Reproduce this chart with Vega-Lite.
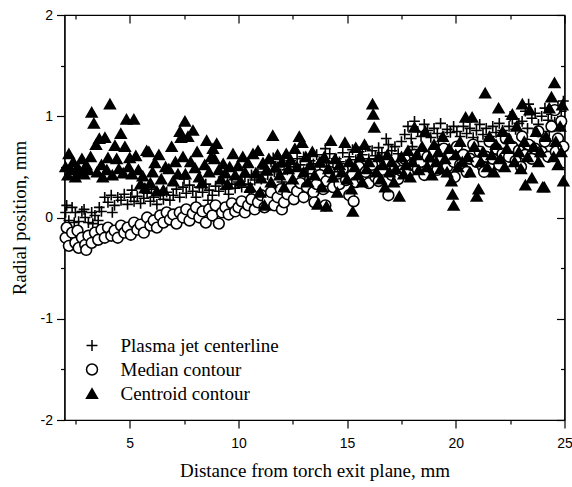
{
"$schema":"https://vega.github.io/schema/vega-lite/v6.json",
"width":500,"height":405,
"autosize":{"type":"none"},
"padding":{"left":64.5,"top":15,"right":7.5,"bottom":67},
"background":"white",
"config":{"view":{"stroke":"black","strokeWidth":1.2},
 "legend":{"orient":"none","legendX":18,"legendY":321,"title":null,"padding":0,"labelFont":"Liberation Serif","labelFontSize":19,"labelColor":"black","labelOffset":19,"symbolSize":120,"symbolStrokeWidth":1.5,"symbolOpacity":1,"rowPadding":4},
 "axis":{"grid":false,"domainColor":"black","domainWidth":1.2,"tickColor":"black","tickWidth":1.2,"labelColor":"black","labelFont":"Liberation Sans","labelFontSize":14,"titleColor":"#000000","titleFont":"Liberation Serif","titleFontSize":19,"titleFontWeight":"normal"}},
"data":{"values":[
{"series":"Plasma jet centerline","x":2.05,"y":0.05},{"series":"Plasma jet centerline","x":2.1,"y":0.12},{"series":"Plasma jet centerline","x":2.2,"y":-0.03},{"series":"Plasma jet centerline","x":2.35,"y":0.1},{"series":"Plasma jet centerline","x":2.45,"y":-0.05},{"series":"Plasma jet centerline","x":2.5,"y":0.05},{"series":"Plasma jet centerline","x":2.65,"y":-0.04},{"series":"Plasma jet centerline","x":2.8,"y":0.06},{"series":"Plasma jet centerline","x":2.9,"y":0.08},{"series":"Plasma jet centerline","x":2.95,"y":0.0},{"series":"Plasma jet centerline","x":3.1,"y":-0.05},{"series":"Plasma jet centerline","x":3.25,"y":0.05},{"series":"Plasma jet centerline","x":3.3,"y":-0.06},{"series":"Plasma jet centerline","x":3.4,"y":0.02},{"series":"Plasma jet centerline","x":3.55,"y":-0.03},{"series":"Plasma jet centerline","x":3.6,"y":0.1},{"series":"Plasma jet centerline","x":3.7,"y":0.06},
{"series":"Plasma jet centerline","x":3.85,"y":0.2},{"series":"Plasma jet centerline","x":4.0,"y":0.15},{"series":"Plasma jet centerline","x":4.15,"y":0.22},{"series":"Plasma jet centerline","x":4.2,"y":0.05},{"series":"Plasma jet centerline","x":4.3,"y":0.12},{"series":"Plasma jet centerline","x":4.45,"y":0.2},{"series":"Plasma jet centerline","x":4.6,"y":0.17},{"series":"Plasma jet centerline","x":4.75,"y":0.23},{"series":"Plasma jet centerline","x":4.9,"y":0.13},{"series":"Plasma jet centerline","x":5.05,"y":0.2},{"series":"Plasma jet centerline","x":5.1,"y":0.27},{"series":"Plasma jet centerline","x":5.2,"y":0.16},{"series":"Plasma jet centerline","x":5.35,"y":0.21},{"series":"Plasma jet centerline","x":5.5,"y":0.14},{"series":"Plasma jet centerline","x":5.65,"y":0.19},{"series":"Plasma jet centerline","x":5.8,"y":0.24},{"series":"Plasma jet centerline","x":5.95,"y":0.16},{"series":"Plasma jet centerline","x":6.0,"y":0.28},{"series":"Plasma jet centerline","x":6.1,"y":0.2},{"series":"Plasma jet centerline","x":6.25,"y":0.13},{"series":"Plasma jet centerline","x":6.4,"y":0.22},{"series":"Plasma jet centerline","x":6.55,"y":0.18},{"series":"Plasma jet centerline","x":6.7,"y":0.25},{"series":"Plasma jet centerline","x":6.85,"y":0.17},
{"series":"Plasma jet centerline","x":7.0,"y":0.22},{"series":"Plasma jet centerline","x":7.15,"y":0.28},{"series":"Plasma jet centerline","x":7.3,"y":0.2},{"series":"Plasma jet centerline","x":7.45,"y":0.3},{"series":"Plasma jet centerline","x":7.5,"y":0.38},{"series":"Plasma jet centerline","x":7.6,"y":0.24},{"series":"Plasma jet centerline","x":7.75,"y":0.32},{"series":"Plasma jet centerline","x":7.9,"y":0.26},{"series":"Plasma jet centerline","x":8.05,"y":0.2},{"series":"Plasma jet centerline","x":8.2,"y":0.3},{"series":"Plasma jet centerline","x":8.35,"y":0.25},{"series":"Plasma jet centerline","x":8.5,"y":0.33},{"series":"Plasma jet centerline","x":8.6,"y":0.17},{"series":"Plasma jet centerline","x":8.65,"y":0.27},{"series":"Plasma jet centerline","x":8.8,"y":0.22},{"series":"Plasma jet centerline","x":8.95,"y":0.31},{"series":"Plasma jet centerline","x":9.1,"y":0.26},{"series":"Plasma jet centerline","x":9.25,"y":0.34},{"series":"Plasma jet centerline","x":9.3,"y":0.4},{"series":"Plasma jet centerline","x":9.4,"y":0.28},{"series":"Plasma jet centerline","x":9.55,"y":0.23},{"series":"Plasma jet centerline","x":9.7,"y":0.33},{"series":"Plasma jet centerline","x":9.85,"y":0.29},
{"series":"Plasma jet centerline","x":10.0,"y":0.35},{"series":"Plasma jet centerline","x":10.15,"y":0.3},{"series":"Plasma jet centerline","x":10.3,"y":0.4},{"series":"Plasma jet centerline","x":10.45,"y":0.33},{"series":"Plasma jet centerline","x":10.5,"y":0.25},{"series":"Plasma jet centerline","x":10.6,"y":0.42},{"series":"Plasma jet centerline","x":10.75,"y":0.37},{"series":"Plasma jet centerline","x":10.9,"y":0.45},{"series":"Plasma jet centerline","x":11.05,"y":0.38},{"series":"Plasma jet centerline","x":11.2,"y":0.48},{"series":"Plasma jet centerline","x":11.35,"y":0.42},{"series":"Plasma jet centerline","x":11.5,"y":0.55},{"series":"Plasma jet centerline","x":11.6,"y":0.59},{"series":"Plasma jet centerline","x":11.65,"y":0.45},{"series":"Plasma jet centerline","x":11.8,"y":0.5},{"series":"Plasma jet centerline","x":11.95,"y":0.43},{"series":"Plasma jet centerline","x":12.0,"y":0.35},{"series":"Plasma jet centerline","x":12.1,"y":0.53},{"series":"Plasma jet centerline","x":12.25,"y":0.47},{"series":"Plasma jet centerline","x":12.4,"y":0.56},
{"series":"Plasma jet centerline","x":12.55,"y":0.5},{"series":"Plasma jet centerline","x":12.7,"y":0.58},{"series":"Plasma jet centerline","x":12.85,"y":0.52},{"series":"Plasma jet centerline","x":13.0,"y":0.6},{"series":"Plasma jet centerline","x":13.15,"y":0.48},{"series":"Plasma jet centerline","x":13.2,"y":0.42},{"series":"Plasma jet centerline","x":13.3,"y":0.56},{"series":"Plasma jet centerline","x":13.45,"y":0.53},{"series":"Plasma jet centerline","x":13.6,"y":0.62},{"series":"Plasma jet centerline","x":13.75,"y":0.5},{"series":"Plasma jet centerline","x":13.9,"y":0.57},{"series":"Plasma jet centerline","x":14.0,"y":0.68},{"series":"Plasma jet centerline","x":14.05,"y":0.54},{"series":"Plasma jet centerline","x":14.2,"y":0.63},{"series":"Plasma jet centerline","x":14.35,"y":0.49},{"series":"Plasma jet centerline","x":14.5,"y":0.58},{"series":"Plasma jet centerline","x":14.65,"y":0.55},{"series":"Plasma jet centerline","x":14.8,"y":0.64},{"series":"Plasma jet centerline","x":14.95,"y":0.52},
{"series":"Plasma jet centerline","x":15.1,"y":0.6},{"series":"Plasma jet centerline","x":15.25,"y":0.67},{"series":"Plasma jet centerline","x":15.4,"y":0.57},{"series":"Plasma jet centerline","x":15.5,"y":0.52},{"series":"Plasma jet centerline","x":15.55,"y":0.65},{"series":"Plasma jet centerline","x":15.7,"y":0.62},{"series":"Plasma jet centerline","x":15.85,"y":0.7},{"series":"Plasma jet centerline","x":16.0,"y":0.58},{"series":"Plasma jet centerline","x":16.15,"y":0.66},{"series":"Plasma jet centerline","x":16.3,"y":0.61},{"series":"Plasma jet centerline","x":16.45,"y":0.69},{"series":"Plasma jet centerline","x":16.6,"y":0.64},{"series":"Plasma jet centerline","x":16.75,"y":0.6},{"series":"Plasma jet centerline","x":16.8,"y":0.78},{"series":"Plasma jet centerline","x":16.9,"y":0.72},{"series":"Plasma jet centerline","x":17.05,"y":0.66},{"series":"Plasma jet centerline","x":17.2,"y":0.7},{"series":"Plasma jet centerline","x":17.35,"y":0.63},
{"series":"Plasma jet centerline","x":17.5,"y":0.75},{"series":"Plasma jet centerline","x":17.65,"y":0.82},{"series":"Plasma jet centerline","x":17.8,"y":0.9},{"series":"Plasma jet centerline","x":17.95,"y":0.78},{"series":"Plasma jet centerline","x":18.0,"y":0.7},{"series":"Plasma jet centerline","x":18.1,"y":0.95},{"series":"Plasma jet centerline","x":18.25,"y":0.85},{"series":"Plasma jet centerline","x":18.4,"y":0.8},{"series":"Plasma jet centerline","x":18.55,"y":0.92},{"series":"Plasma jet centerline","x":18.7,"y":0.86},{"series":"Plasma jet centerline","x":18.85,"y":0.79},{"series":"Plasma jet centerline","x":19.0,"y":0.88},{"series":"Plasma jet centerline","x":19.15,"y":0.83},{"series":"Plasma jet centerline","x":19.2,"y":0.72},{"series":"Plasma jet centerline","x":19.3,"y":0.93},{"series":"Plasma jet centerline","x":19.45,"y":0.8},{"series":"Plasma jet centerline","x":19.6,"y":0.87},{"series":"Plasma jet centerline","x":19.75,"y":0.84},{"series":"Plasma jet centerline","x":19.9,"y":0.9},
{"series":"Plasma jet centerline","x":20.05,"y":0.85},{"series":"Plasma jet centerline","x":20.2,"y":0.8},{"series":"Plasma jet centerline","x":20.35,"y":0.9},{"series":"Plasma jet centerline","x":20.5,"y":0.83},{"series":"Plasma jet centerline","x":20.65,"y":0.88},{"series":"Plasma jet centerline","x":20.8,"y":0.79},{"series":"Plasma jet centerline","x":20.95,"y":0.86},{"series":"Plasma jet centerline","x":21.0,"y":0.75},{"series":"Plasma jet centerline","x":21.1,"y":0.92},{"series":"Plasma jet centerline","x":21.25,"y":0.82},{"series":"Plasma jet centerline","x":21.4,"y":0.88},{"series":"Plasma jet centerline","x":21.55,"y":0.8},{"series":"Plasma jet centerline","x":21.7,"y":0.9},{"series":"Plasma jet centerline","x":21.85,"y":0.84},{"series":"Plasma jet centerline","x":22.0,"y":0.93},{"series":"Plasma jet centerline","x":22.15,"y":0.86},{"series":"Plasma jet centerline","x":22.3,"y":0.81},{"series":"Plasma jet centerline","x":22.45,"y":0.9},{"series":"Plasma jet centerline","x":22.5,"y":1.0},{"series":"Plasma jet centerline","x":22.6,"y":0.97},{"series":"Plasma jet centerline","x":22.75,"y":0.87},{"series":"Plasma jet centerline","x":22.9,"y":0.93},
{"series":"Plasma jet centerline","x":23.05,"y":0.95},{"series":"Plasma jet centerline","x":23.2,"y":1.05},{"series":"Plasma jet centerline","x":23.3,"y":0.88},{"series":"Plasma jet centerline","x":23.35,"y":1.12},{"series":"Plasma jet centerline","x":23.5,"y":0.98},{"series":"Plasma jet centerline","x":23.65,"y":1.03},{"series":"Plasma jet centerline","x":23.8,"y":0.92},{"series":"Plasma jet centerline","x":23.95,"y":1.0},{"series":"Plasma jet centerline","x":24.1,"y":1.08},{"series":"Plasma jet centerline","x":24.25,"y":0.96},{"series":"Plasma jet centerline","x":24.3,"y":0.85},{"series":"Plasma jet centerline","x":24.4,"y":1.02},{"series":"Plasma jet centerline","x":24.55,"y":0.94},{"series":"Plasma jet centerline","x":24.7,"y":1.1},{"series":"Plasma jet centerline","x":24.8,"y":0.9},{"series":"Plasma jet centerline","x":24.85,"y":1.05},{"series":"Plasma jet centerline","x":24.95,"y":1.15},
{"series":"Median contour","x":2.05,"y":-0.2},{"series":"Median contour","x":2.1,"y":-0.1},{"series":"Median contour","x":2.2,"y":-0.28},{"series":"Median contour","x":2.35,"y":-0.15},{"series":"Median contour","x":2.5,"y":-0.25},{"series":"Median contour","x":2.6,"y":-0.13},{"series":"Median contour","x":2.65,"y":-0.3},{"series":"Median contour","x":2.8,"y":-0.2},{"series":"Median contour","x":2.95,"y":-0.27},{"series":"Median contour","x":3.0,"y":-0.32},{"series":"Median contour","x":3.1,"y":-0.18},{"series":"Median contour","x":3.25,"y":-0.25},{"series":"Median contour","x":3.4,"y":-0.15},{"series":"Median contour","x":3.55,"y":-0.22},{"series":"Median contour","x":3.7,"y":-0.12},{"series":"Median contour","x":3.85,"y":-0.2},{"series":"Median contour","x":4.0,"y":-0.1},{"series":"Median contour","x":4.15,"y":-0.18},{"series":"Median contour","x":4.3,"y":-0.13},{"series":"Median contour","x":4.45,"y":-0.2},{"series":"Median contour","x":4.6,"y":-0.08},{"series":"Median contour","x":4.75,"y":-0.15},{"series":"Median contour","x":4.9,"y":-0.1},{"series":"Median contour","x":5.05,"y":-0.17},{"series":"Median contour","x":5.2,"y":-0.05},{"series":"Median contour","x":5.35,"y":-0.12},{"series":"Median contour","x":5.5,"y":-0.07},{"series":"Median contour","x":5.65,"y":-0.15},{"series":"Median contour","x":5.8,"y":0.0},{"series":"Median contour","x":5.95,"y":-0.08},{"series":"Median contour","x":6.1,"y":-0.03},{"series":"Median contour","x":6.25,"y":-0.1},{"series":"Median contour","x":6.4,"y":0.02},{"series":"Median contour","x":6.55,"y":-0.05},{"series":"Median contour","x":6.7,"y":0.05},{"series":"Median contour","x":6.85,"y":-0.02},{"series":"Median contour","x":7.0,"y":0.03},{"series":"Median contour","x":7.15,"y":-0.06},{"series":"Median contour","x":7.3,"y":0.05},{"series":"Median contour","x":7.45,"y":0.0},{"series":"Median contour","x":7.6,"y":0.08},{"series":"Median contour","x":7.75,"y":-0.03},{"series":"Median contour","x":7.9,"y":0.04},{"series":"Median contour","x":8.05,"y":0.1},{"series":"Median contour","x":8.2,"y":0.0},{"series":"Median contour","x":8.35,"y":0.06},{"series":"Median contour","x":8.5,"y":-0.05},{"series":"Median contour","x":8.65,"y":0.08},{"series":"Median contour","x":8.8,"y":0.02},{"series":"Median contour","x":8.95,"y":0.12},{"series":"Median contour","x":9.1,"y":-0.06},{"series":"Median contour","x":9.25,"y":0.05},{"series":"Median contour","x":9.4,"y":0.1},{"series":"Median contour","x":9.55,"y":0.03},{"series":"Median contour","x":9.7,"y":0.14},{"series":"Median contour","x":9.85,"y":0.06},
{"series":"Median contour","x":10.0,"y":0.1},{"series":"Median contour","x":10.15,"y":0.16},{"series":"Median contour","x":10.3,"y":0.05},{"series":"Median contour","x":10.45,"y":0.12},{"series":"Median contour","x":10.6,"y":0.18},{"series":"Median contour","x":10.75,"y":0.08},{"series":"Median contour","x":10.9,"y":0.15},{"series":"Median contour","x":11.05,"y":0.22},{"series":"Median contour","x":11.2,"y":0.1},{"series":"Median contour","x":11.35,"y":0.17},{"series":"Median contour","x":11.5,"y":0.25},{"series":"Median contour","x":11.65,"y":0.12},{"series":"Median contour","x":11.8,"y":0.2},{"series":"Median contour","x":11.95,"y":0.28},{"series":"Median contour","x":12.0,"y":0.08},{"series":"Median contour","x":12.1,"y":0.15},{"series":"Median contour","x":12.25,"y":0.23},{"series":"Median contour","x":12.4,"y":0.3},{"series":"Median contour","x":12.55,"y":0.18},{"series":"Median contour","x":12.7,"y":0.26},{"series":"Median contour","x":12.85,"y":0.34},{"series":"Median contour","x":13.0,"y":0.2},{"series":"Median contour","x":13.15,"y":0.3},{"series":"Median contour","x":13.3,"y":0.38},{"series":"Median contour","x":13.45,"y":0.25},{"series":"Median contour","x":13.5,"y":0.15},{"series":"Median contour","x":13.6,"y":0.33},{"series":"Median contour","x":13.75,"y":0.42},{"series":"Median contour","x":13.9,"y":0.28},{"series":"Median contour","x":14.0,"y":0.12},{"series":"Median contour","x":14.05,"y":0.36},{"series":"Median contour","x":14.2,"y":0.45},{"series":"Median contour","x":14.35,"y":0.3},{"series":"Median contour","x":14.5,"y":0.4},{"series":"Median contour","x":14.65,"y":0.33},{"series":"Median contour","x":14.8,"y":0.48},{"series":"Median contour","x":14.95,"y":0.37},
{"series":"Median contour","x":15.1,"y":0.22},{"series":"Median contour","x":15.25,"y":0.42},{"series":"Median contour","x":15.3,"y":0.16},{"series":"Median contour","x":15.4,"y":0.35},{"series":"Median contour","x":15.55,"y":0.5},{"series":"Median contour","x":15.7,"y":0.38},{"series":"Median contour","x":15.85,"y":0.45},{"series":"Median contour","x":16.0,"y":0.34},{"series":"Median contour","x":16.15,"y":0.52},{"series":"Median contour","x":16.3,"y":0.4},{"series":"Median contour","x":16.45,"y":0.36},{"series":"Median contour","x":16.6,"y":0.47},{"series":"Median contour","x":16.75,"y":0.55},{"series":"Median contour","x":16.9,"y":0.22},{"series":"Median contour","x":17.05,"y":0.42},{"series":"Median contour","x":17.2,"y":0.5},{"series":"Median contour","x":17.35,"y":0.38},{"series":"Median contour","x":17.5,"y":0.46},{"series":"Median contour","x":17.65,"y":0.58},{"series":"Median contour","x":17.8,"y":0.44},{"series":"Median contour","x":17.95,"y":0.52},{"series":"Median contour","x":18.1,"y":0.62},{"series":"Median contour","x":18.25,"y":0.48},{"series":"Median contour","x":18.4,"y":0.55},{"series":"Median contour","x":18.55,"y":0.42},{"series":"Median contour","x":18.7,"y":0.6},{"series":"Median contour","x":18.85,"y":0.5},{"series":"Median contour","x":19.0,"y":0.65},{"series":"Median contour","x":19.15,"y":0.47},{"series":"Median contour","x":19.3,"y":0.56},{"series":"Median contour","x":19.45,"y":0.68},{"series":"Median contour","x":19.6,"y":0.5},{"series":"Median contour","x":19.75,"y":0.6},{"series":"Median contour","x":19.9,"y":0.55},{"series":"Median contour","x":19.95,"y":0.4},
{"series":"Median contour","x":20.05,"y":0.7},{"series":"Median contour","x":20.2,"y":0.52},{"series":"Median contour","x":20.35,"y":0.62},{"series":"Median contour","x":20.5,"y":0.45},{"series":"Median contour","x":20.65,"y":0.58},{"series":"Median contour","x":20.8,"y":0.72},{"series":"Median contour","x":20.95,"y":0.55},{"series":"Median contour","x":21.1,"y":0.65},{"series":"Median contour","x":21.25,"y":0.5},{"series":"Median contour","x":21.3,"y":0.45},{"series":"Median contour","x":21.4,"y":0.6},{"series":"Median contour","x":21.55,"y":0.75},{"series":"Median contour","x":21.7,"y":0.58},{"series":"Median contour","x":21.85,"y":0.68},{"series":"Median contour","x":22.0,"y":0.52},{"series":"Median contour","x":22.15,"y":0.63},{"series":"Median contour","x":22.3,"y":0.78},{"series":"Median contour","x":22.45,"y":0.6},{"series":"Median contour","x":22.6,"y":0.7},{"series":"Median contour","x":22.75,"y":0.56},{"series":"Median contour","x":22.9,"y":0.66},{"series":"Median contour","x":23.0,"y":0.5},{"series":"Median contour","x":23.05,"y":0.8},{"series":"Median contour","x":23.2,"y":0.62},{"series":"Median contour","x":23.35,"y":0.72},{"series":"Median contour","x":23.5,"y":0.58},{"series":"Median contour","x":23.65,"y":0.68},{"series":"Median contour","x":23.8,"y":0.85},{"series":"Median contour","x":23.95,"y":0.65},{"series":"Median contour","x":24.1,"y":0.75},{"series":"Median contour","x":24.25,"y":0.6},{"series":"Median contour","x":24.4,"y":0.9},{"series":"Median contour","x":24.55,"y":1.06},{"series":"Median contour","x":24.6,"y":0.65},{"series":"Median contour","x":24.7,"y":0.78},{"series":"Median contour","x":24.85,"y":0.95},{"series":"Median contour","x":24.95,"y":0.7},
{"series":"Centroid contour","x":2.05,"y":0.5},{"series":"Centroid contour","x":2.15,"y":0.42},{"series":"Centroid contour","x":2.2,"y":0.63},{"series":"Centroid contour","x":2.3,"y":0.47},{"series":"Centroid contour","x":2.4,"y":0.55},{"series":"Centroid contour","x":2.5,"y":0.4},{"series":"Centroid contour","x":2.6,"y":0.5},{"series":"Centroid contour","x":2.7,"y":0.45},{"series":"Centroid contour","x":2.8,"y":0.58},{"series":"Centroid contour","x":2.9,"y":0.43},{"series":"Centroid contour","x":3.0,"y":0.52},{"series":"Centroid contour","x":3.1,"y":0.47},{"series":"Centroid contour","x":3.2,"y":0.6},
{"series":"Centroid contour","x":3.25,"y":1.04},{"series":"Centroid contour","x":3.35,"y":0.93},{"series":"Centroid contour","x":3.45,"y":0.72},{"series":"Centroid contour","x":3.5,"y":0.45},{"series":"Centroid contour","x":3.6,"y":0.78},{"series":"Centroid contour","x":3.7,"y":0.52},{"series":"Centroid contour","x":3.76,"y":0.4},{"series":"Centroid contour","x":3.86,"y":0.79},{"series":"Centroid contour","x":3.95,"y":0.47},{"series":"Centroid contour","x":4.0,"y":0.59},{"series":"Centroid contour","x":4.09,"y":1.12},{"series":"Centroid contour","x":4.2,"y":0.42},{"series":"Centroid contour","x":4.32,"y":0.71},{"series":"Centroid contour","x":4.4,"y":0.58},{"series":"Centroid contour","x":4.5,"y":0.48},{"series":"Centroid contour","x":4.59,"y":0.83},{"series":"Centroid contour","x":4.7,"y":0.44},{"series":"Centroid contour","x":4.78,"y":0.7},{"series":"Centroid contour","x":4.85,"y":0.97},{"series":"Centroid contour","x":4.95,"y":0.5},{"series":"Centroid contour","x":5.0,"y":0.59},{"series":"Centroid contour","x":5.1,"y":0.43},{"series":"Centroid contour","x":5.19,"y":0.97},{"series":"Centroid contour","x":5.28,"y":0.61},{"series":"Centroid contour","x":5.4,"y":0.47},{"series":"Centroid contour","x":5.5,"y":0.33},{"series":"Centroid contour","x":5.6,"y":0.41},{"series":"Centroid contour","x":5.7,"y":0.29},{"series":"Centroid contour","x":5.78,"y":0.66},{"series":"Centroid contour","x":5.88,"y":0.65},{"series":"Centroid contour","x":5.95,"y":0.34},{"series":"Centroid contour","x":6.05,"y":0.45},{"series":"Centroid contour","x":6.16,"y":0.54},{"series":"Centroid contour","x":6.25,"y":0.26},{"series":"Centroid contour","x":6.34,"y":0.62},{"series":"Centroid contour","x":6.45,"y":0.38},{"series":"Centroid contour","x":6.55,"y":0.27},{"series":"Centroid contour","x":6.65,"y":0.5},{"series":"Centroid contour","x":6.8,"y":0.48},{"series":"Centroid contour","x":6.93,"y":0.7},{"series":"Centroid contour","x":7.0,"y":0.36},{"series":"Centroid contour","x":7.1,"y":0.55},{"series":"Centroid contour","x":7.22,"y":0.43},{"series":"Centroid contour","x":7.31,"y":0.85},{"series":"Centroid contour","x":7.36,"y":0.79},{"series":"Centroid contour","x":7.45,"y":0.6},{"series":"Centroid contour","x":7.54,"y":0.95},{"series":"Centroid contour","x":7.56,"y":0.43},{"series":"Centroid contour","x":7.68,"y":0.8},{"series":"Centroid contour","x":7.8,"y":0.55},{"series":"Centroid contour","x":7.91,"y":0.86},{"series":"Centroid contour","x":8.0,"y":0.49},{"series":"Centroid contour","x":8.1,"y":0.65},{"series":"Centroid contour","x":8.2,"y":0.4},{"series":"Centroid contour","x":8.32,"y":0.34},{"series":"Centroid contour","x":8.45,"y":0.52},{"series":"Centroid contour","x":8.54,"y":0.76},{"series":"Centroid contour","x":8.65,"y":0.45},{"series":"Centroid contour","x":8.75,"y":0.6},{"series":"Centroid contour","x":8.83,"y":0.68},{"series":"Centroid contour","x":8.9,"y":0.58},{"series":"Centroid contour","x":9.0,"y":0.73},{"series":"Centroid contour","x":9.1,"y":0.47},{"series":"Centroid contour","x":9.2,"y":0.38},{"series":"Centroid contour","x":9.3,"y":0.53},{"series":"Centroid contour","x":9.4,"y":0.44},{"series":"Centroid contour","x":9.5,"y":0.33},{"series":"Centroid contour","x":9.6,"y":0.5},{"series":"Centroid contour","x":9.75,"y":0.63},{"series":"Centroid contour","x":9.85,"y":0.42},{"series":"Centroid contour","x":9.98,"y":0.51},
{"series":"Centroid contour","x":10.1,"y":0.36},{"series":"Centroid contour","x":10.2,"y":0.6},{"series":"Centroid contour","x":10.3,"y":0.45},{"series":"Centroid contour","x":10.44,"y":0.54},{"series":"Centroid contour","x":10.55,"y":0.3},{"series":"Centroid contour","x":10.67,"y":0.63},{"series":"Centroid contour","x":10.8,"y":0.44},{"series":"Centroid contour","x":10.9,"y":0.66},{"series":"Centroid contour","x":11.0,"y":0.25},{"series":"Centroid contour","x":11.05,"y":0.39},{"series":"Centroid contour","x":11.13,"y":0.54},{"series":"Centroid contour","x":11.2,"y":0.12},{"series":"Centroid contour","x":11.3,"y":0.47},{"series":"Centroid contour","x":11.4,"y":0.58},{"series":"Centroid contour","x":11.5,"y":0.35},{"series":"Centroid contour","x":11.58,"y":0.81},{"series":"Centroid contour","x":11.7,"y":0.5},{"series":"Centroid contour","x":11.8,"y":0.62},{"series":"Centroid contour","x":11.9,"y":0.42},{"series":"Centroid contour","x":12.0,"y":0.55},{"series":"Centroid contour","x":12.1,"y":0.3},{"series":"Centroid contour","x":12.2,"y":0.63},{"series":"Centroid contour","x":12.3,"y":0.48},{"series":"Centroid contour","x":12.4,"y":0.57},{"series":"Centroid contour","x":12.5,"y":0.38},{"series":"Centroid contour","x":12.6,"y":0.68},{"series":"Centroid contour","x":12.7,"y":0.5},{"series":"Centroid contour","x":12.8,"y":0.8},{"series":"Centroid contour","x":12.93,"y":0.74},{"series":"Centroid contour","x":13.0,"y":0.45},{"series":"Centroid contour","x":13.1,"y":0.6},{"series":"Centroid contour","x":13.2,"y":0.35},{"series":"Centroid contour","x":13.3,"y":0.52},{"series":"Centroid contour","x":13.4,"y":0.65},{"series":"Centroid contour","x":13.5,"y":0.42},{"series":"Centroid contour","x":13.65,"y":0.13},{"series":"Centroid contour","x":13.75,"y":0.55},{"series":"Centroid contour","x":13.85,"y":0.3},{"series":"Centroid contour","x":13.95,"y":0.6},{"series":"Centroid contour","x":14.05,"y":0.11},{"series":"Centroid contour","x":14.15,"y":0.48},{"series":"Centroid contour","x":14.25,"y":0.76},{"series":"Centroid contour","x":14.35,"y":0.4},{"series":"Centroid contour","x":14.45,"y":0.58},{"series":"Centroid contour","x":14.55,"y":0.25},{"series":"Centroid contour","x":14.65,"y":0.52},{"series":"Centroid contour","x":14.75,"y":0.45},{"series":"Centroid contour","x":14.9,"y":0.74},
{"series":"Centroid contour","x":15.0,"y":0.38},{"series":"Centroid contour","x":15.1,"y":0.55},{"series":"Centroid contour","x":15.2,"y":0.28},{"series":"Centroid contour","x":15.26,"y":0.06},{"series":"Centroid contour","x":15.35,"y":0.5},{"series":"Centroid contour","x":15.4,"y":0.69},{"series":"Centroid contour","x":15.5,"y":0.42},{"series":"Centroid contour","x":15.6,"y":0.6},{"series":"Centroid contour","x":15.7,"y":0.35},{"series":"Centroid contour","x":15.8,"y":0.72},{"series":"Centroid contour","x":15.9,"y":0.48},{"series":"Centroid contour","x":16.0,"y":0.55},{"series":"Centroid contour","x":16.17,"y":1.12},{"series":"Centroid contour","x":16.2,"y":1.02},{"series":"Centroid contour","x":16.25,"y":0.89},{"series":"Centroid contour","x":16.35,"y":0.45},{"series":"Centroid contour","x":16.45,"y":0.6},{"series":"Centroid contour","x":16.55,"y":0.38},{"series":"Centroid contour","x":16.65,"y":0.52},{"series":"Centroid contour","x":16.75,"y":0.3},{"series":"Centroid contour","x":16.85,"y":0.62},{"series":"Centroid contour","x":16.95,"y":0.45},{"series":"Centroid contour","x":17.05,"y":0.55},{"series":"Centroid contour","x":17.15,"y":0.35},{"series":"Centroid contour","x":17.25,"y":0.48},{"series":"Centroid contour","x":17.4,"y":0.21},{"series":"Centroid contour","x":17.5,"y":0.6},{"series":"Centroid contour","x":17.6,"y":0.43},{"series":"Centroid contour","x":17.7,"y":0.52},{"series":"Centroid contour","x":17.8,"y":0.66},{"series":"Centroid contour","x":17.9,"y":0.4},{"series":"Centroid contour","x":18.0,"y":0.55},{"series":"Centroid contour","x":18.1,"y":0.89},{"series":"Centroid contour","x":18.2,"y":0.62},{"series":"Centroid contour","x":18.3,"y":0.47},{"series":"Centroid contour","x":18.45,"y":0.7},{"series":"Centroid contour","x":18.6,"y":0.85},{"series":"Centroid contour","x":18.7,"y":0.5},{"series":"Centroid contour","x":18.8,"y":0.6},{"series":"Centroid contour","x":18.9,"y":0.42},{"series":"Centroid contour","x":19.0,"y":0.72},{"series":"Centroid contour","x":19.1,"y":0.55},{"series":"Centroid contour","x":19.2,"y":0.65},{"series":"Centroid contour","x":19.3,"y":0.48},{"series":"Centroid contour","x":19.4,"y":0.8},{"series":"Centroid contour","x":19.5,"y":0.58},{"series":"Centroid contour","x":19.6,"y":0.45},{"series":"Centroid contour","x":19.7,"y":0.68},{"series":"Centroid contour","x":19.8,"y":0.36},{"series":"Centroid contour","x":19.85,"y":0.23},{"series":"Centroid contour","x":19.9,"y":0.12},
{"series":"Centroid contour","x":20.0,"y":0.62},{"series":"Centroid contour","x":20.1,"y":0.5},{"series":"Centroid contour","x":20.2,"y":0.75},{"series":"Centroid contour","x":20.3,"y":0.55},{"series":"Centroid contour","x":20.45,"y":0.99},{"series":"Centroid contour","x":20.55,"y":0.6},{"series":"Centroid contour","x":20.65,"y":0.45},{"series":"Centroid contour","x":20.75,"y":0.99},{"series":"Centroid contour","x":20.85,"y":0.7},{"series":"Centroid contour","x":20.96,"y":0.21},{"series":"Centroid contour","x":21.05,"y":0.28},{"series":"Centroid contour","x":21.15,"y":0.55},{"series":"Centroid contour","x":21.25,"y":0.65},{"series":"Centroid contour","x":21.35,"y":1.23},{"series":"Centroid contour","x":21.45,"y":0.5},{"series":"Centroid contour","x":21.55,"y":0.8},{"series":"Centroid contour","x":21.65,"y":0.62},{"series":"Centroid contour","x":21.75,"y":0.45},{"series":"Centroid contour","x":21.85,"y":0.72},{"series":"Centroid contour","x":21.97,"y":1.08},{"series":"Centroid contour","x":22.05,"y":0.58},{"series":"Centroid contour","x":22.15,"y":0.85},{"series":"Centroid contour","x":22.25,"y":0.5},{"series":"Centroid contour","x":22.35,"y":0.68},{"series":"Centroid contour","x":22.45,"y":0.78},{"series":"Centroid contour","x":22.6,"y":1.02},{"series":"Centroid contour","x":22.7,"y":0.55},{"series":"Centroid contour","x":22.8,"y":0.9},{"series":"Centroid contour","x":22.9,"y":0.65},{"series":"Centroid contour","x":23.0,"y":0.48},{"series":"Centroid contour","x":23.06,"y":1.12},{"series":"Centroid contour","x":23.15,"y":0.75},{"series":"Centroid contour","x":23.2,"y":0.32},{"series":"Centroid contour","x":23.3,"y":0.6},{"series":"Centroid contour","x":23.4,"y":1.06},{"series":"Centroid contour","x":23.5,"y":0.39},{"series":"Centroid contour","x":23.6,"y":0.7},{"series":"Centroid contour","x":23.7,"y":0.85},{"series":"Centroid contour","x":23.8,"y":0.55},{"series":"Centroid contour","x":23.9,"y":0.65},{"series":"Centroid contour","x":24.0,"y":0.3},{"series":"Centroid contour","x":24.07,"y":0.3},{"series":"Centroid contour","x":24.15,"y":0.8},{"series":"Centroid contour","x":24.3,"y":1.08},{"series":"Centroid contour","x":24.4,"y":1.19},{"series":"Centroid contour","x":24.5,"y":0.6},{"series":"Centroid contour","x":24.54,"y":1.33},{"series":"Centroid contour","x":24.6,"y":0.75},{"series":"Centroid contour","x":24.7,"y":0.52},{"series":"Centroid contour","x":24.8,"y":0.9},{"series":"Centroid contour","x":24.85,"y":0.65},{"series":"Centroid contour","x":24.9,"y":1.11},{"series":"Centroid contour","x":24.95,"y":0.36}
]},
"layer":[
 {"mark":{"type":"point","filled":true,"size":115,"strokeWidth":1.6,"opacity":1},
  "encoding":{
   "x":{"field":"x","type":"quantitative","scale":{"domain":[2,25],"nice":false,"zero":false},
     "axis":{"orient":"bottom","values":[2.5,5,7.5,10,12.5,15,17.5,20,22.5,25],"labelExpr":"datum.value % 5 == 0 ? '' + datum.value : ''","tickSize":{"condition":{"test":"datum.value % 5 == 0","value":8},"value":4},"labelPadding":8,"title":"Distance from torch exit plane, mm","titleColor":"#000000","titlePadding":11,"labelFlush":false,"labelOverlap":false}},
   "y":{"field":"y","type":"quantitative","scale":{"domain":[-2,2],"nice":false,"zero":false},
     "axis":{"orient":"left","values":[-2,-1.5,-1,-0.5,0,0.5,1,1.5,2],"labelExpr":"datum.value % 1 == 0 ? '' + datum.value : ''","tickSize":{"condition":{"test":"datum.value % 1 == 0","value":8},"value":4},"labelPadding":4,"title":"Radial position, mm","titleColor":"#000000","titlePadding":11,"labelFlush":false,"labelOverlap":false}},
   "shape":{"field":"series","type":"nominal","scale":{"domain":["Plasma jet centerline","Median contour","Centroid contour"],"range":["M-1,0H1M0,-1V1","circle","triangle-up"]}},
   "fill":{"field":"series","type":"nominal","scale":{"domain":["Plasma jet centerline","Median contour","Centroid contour"],"range":["transparent","white","black"]}},
   "stroke":{"field":"series","type":"nominal","scale":{"domain":["Plasma jet centerline","Median contour","Centroid contour"],"range":["black","black","black"]}}
  }},
 {"mark":{"type":"point","opacity":0},
  "encoding":{
   "x":{"field":"x","type":"quantitative","axis":{"orient":"top","values":[2.5,5,7.5,10,12.5,15,17.5,20,22.5,25],"labels":false,"title":null,"tickSize":{"condition":{"test":"datum.value % 5 == 0","value":-8},"value":-4}}},
   "y":{"field":"y","type":"quantitative","axis":{"orient":"right","values":[-2,-1.5,-1,-0.5,0,0.5,1,1.5,2],"labels":false,"title":null,"tickSize":{"condition":{"test":"datum.value % 1 == 0","value":-8},"value":-4}}}
  }}
],
"resolve":{"axis":{"x":"independent","y":"independent"}}
}
